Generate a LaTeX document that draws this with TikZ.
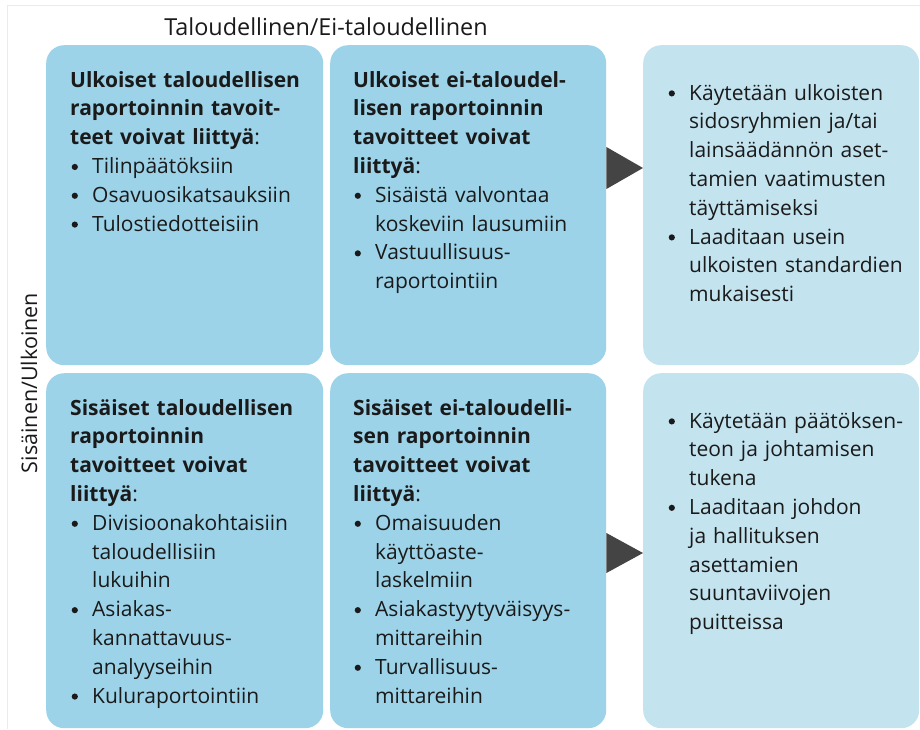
\documentclass[tikz,border=0pt]{standalone}
\usepackage{fontspec}
\setmainfont{Open Sans}
\usetikzlibrary{calc}
\definecolor{boxblue}{HTML}{9CD3E9}
\definecolor{boxlight}{HTML}{C3E3EF}
\definecolor{arrowgray}{HTML}{444444}
\definecolor{txtcol}{HTML}{1A1A1A}
\definecolor{framegray}{HTML}{EBEBEB}
\newcommand{\bul}{\makebox[22pt][l]{\hspace{1.5pt}\tikz[baseline=0pt]\fill[txtcol] (3.1pt,6.6pt) circle[radius=3.1pt];}}
\newcommand{\itm}[1]{\par\noindent\bul#1}
\newcommand{\nl}{\newline}
\newcommand{\il}{\newline\hspace*{22pt}}
\newcommand{\hd}[1]{\noindent\textbf{#1}}
\begin{document}
\begin{tikzpicture}[x=1pt,y=-1pt,
  darkbox/.style={fill=boxblue, draw=none, rounded corners=18pt, anchor=north west, inner sep=0pt},
  lightbox/.style={fill=boxlight, draw=none, rounded corners=18pt, anchor=north west, inner sep=0pt},
  txt/.style={anchor=north west, inner sep=0pt, text width=268pt, align=left, text=txtcol,
    font=\fontsize{21}{28.8}\selectfont},
  lab/.style={inner sep=0pt, text=txtcol},
  tri/.style={fill=arrowgray}]
\useasboundingbox[fill=white] (0,0) rectangle (920,729);
\draw[framegray, line width=1pt] (920,5) -- (7,5) -- (7,729);
% boxes
\node[darkbox, minimum width=277pt, minimum height=320pt] (b1) at (46,45) {};
\node[darkbox, minimum width=276pt, minimum height=320pt] (b2) at (330,45) {};
\node[lightbox, minimum width=276pt, minimum height=320pt] (b3) at (643,45) {};
\node[darkbox, minimum width=277pt, minimum height=355pt] (b4) at (46,373) {};
\node[darkbox, minimum width=276pt, minimum height=355pt] (b5) at (330,373) {};
\node[lightbox, minimum width=276pt, minimum height=355pt] (b6) at (643,373) {};
% labels
\node[lab, anchor=base, font=\fontsize{23.4}{26}\selectfont] (hlab) at (326,35) {Taloudellinen/Ei-taloudellinen};
\node[lab, anchor=base, rotate=90, font=\fontsize{21.5}{26}\selectfont] (vlab) at (37,383) {Sisäinen/Ulkoinen};
% texts
\node[txt] (t1) at (70,71) {\hd{Ulkoiset taloudellisen\nl raportoinnin tavoit-\nl teet voivat liittyä}:
  \itm{Tilinpäätöksiin}
  \itm{Osavuosikatsauksiin}
  \itm{Tulostiedotteisiin}};
\node[txt] (t2) at (353,71) {\hd{Ulkoiset ei-taloudel-\nl lisen raportoinnin\nl tavoitteet voivat\nl liittyä}:
  \itm{Sisäistä valvontaa\il koskeviin lausumiin}
  \itm{Vastuullisuus-\il raportointiin}};
\node[txt] (t3) at (667,71) {\itm{Käytetään ulkoisten\il sidosryhmien ja/tai\il lainsäädännön aset-\il tamien vaatimusten\il täyttämiseksi}
  \itm{Laaditaan usein\il ulkoisten standardien\il mukaisesti}};
\node[txt] (t4) at (70,399) {\hd{Sisäiset taloudellisen\nl raportoinnin\nl tavoitteet voivat\nl liittyä}:
  \itm{Divisioonakohtaisiin\il taloudellisiin\il lukuihin}
  \itm{Asiakas-\il kannattavuus-\il analyyseihin}
  \itm{Kuluraportointiin}};
\node[txt] (t5) at (353,399) {\hd{Sisäiset ei-taloudelli-\nl sen raportoinnin\nl tavoitteet voivat\nl liittyä}:
  \itm{Omaisuuden\il käyttöaste-\il laskelmiin}
  \itm{Asiakastyytyväisyys-\il mittareihin}
  \itm{Turvallisuus-\il mittareihin}};
\node[txt] (t6) at (667,399) {\itm{Käytetään päätöksen-\il teon ja johtamisen\il tukena}
  \itm{Laaditaan johdon\il ja hallituksen\il asettamien\il suuntaviivojen\il puitteissa}};
% arrows
\fill[tri] ($(b2.north east)+(0,102)$) -- ($(b3.north west)+(0,123)$) -- ($(b2.north east)+(0,144)$) -- cycle;
\fill[tri] ($(b5.north east)+(0,160)$) -- ($(b6.north west)+(0,180)$) -- ($(b5.north east)+(0,200)$) -- cycle;
\end{tikzpicture}
\end{document}
